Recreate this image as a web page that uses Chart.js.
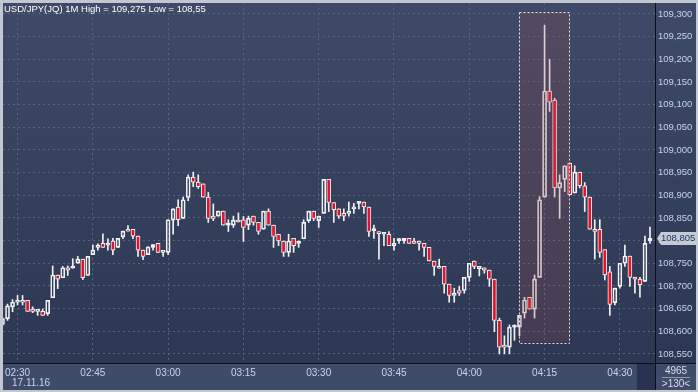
<!DOCTYPE html>
<html>
<head>
<meta charset="utf-8">
<script src="https://cdn.jsdelivr.net/npm/chart.js@4.4.0/dist/chart.umd.min.js"></script>
<style>
  html, body { margin: 0; padding: 0; background: #c3c8d0; }
  #wrap { width: 698px; height: 392px; }
</style>
</head>
<body>
<div id="wrap"><canvas id="chart" width="698" height="392"></canvas></div>
<script>
// minutes are counted from 02:30, first candle is 02:27
const firstMinute = -3;

const opens = [
  108.615, 108.628, 108.654, 108.664, 108.668, 108.668, 108.649, 108.644, 108.644, 108.639,
  108.674, 108.724, 108.718, 108.740, 108.739, 108.750, 108.759, 108.723, 108.769, 108.785,
  108.794, 108.790, 108.799, 108.785, 108.808, 108.825, 108.825, 108.810, 108.779, 108.769,
  108.785, 108.794, 108.774, 108.774, 108.845, 108.874, 108.849, 108.895, 108.940, 108.929,
  108.925, 108.896, 108.854, 108.854, 108.865, 108.834, 108.834, 108.845, 108.846, 108.834,
  108.854, 108.840, 108.825, 108.865, 108.834, 108.814, 108.799, 108.774, 108.805, 108.794,
  108.804, 108.844, 108.865, 108.844, 108.860, 108.935, 108.884, 108.870, 108.860, 108.860,
  108.870, 108.882, 108.885, 108.874, 108.822, 108.820, 108.814, 108.814, 108.789, 108.800,
  108.799, 108.805, 108.799, 108.799, 108.794, 108.785, 108.755, 108.743, 108.743, 108.704,
  108.679, 108.690, 108.690, 108.719, 108.755, 108.738, 108.740, 108.735, 108.715, 108.624,
  108.569, 108.565, 108.609, 108.609, 108.640, 108.675, 108.649, 108.719, 108.896, 109.130,
  109.110, 108.916, 108.935, 108.971, 108.905, 108.951, 108.921, 108.896, 108.825, 108.825,
  108.780, 108.731, 108.663, 108.699, 108.750, 108.766, 108.719, 108.715, 108.710, 108.799
];
const highs = [
  108.630, 108.660, 108.670, 108.679, 108.679, 108.668, 108.654, 108.644, 108.649, 108.668,
  108.744, 108.724, 108.743, 108.744, 108.760, 108.765, 108.759, 108.765, 108.790, 108.793,
  108.815, 108.804, 108.805, 108.805, 108.821, 108.833, 108.825, 108.810, 108.779, 108.786,
  108.791, 108.794, 108.774, 108.846, 108.870, 108.890, 108.896, 108.945, 108.951, 108.945,
  108.925, 108.906, 108.881, 108.865, 108.865, 108.846, 108.854, 108.861, 108.853, 108.854,
  108.854, 108.840, 108.865, 108.870, 108.834, 108.814, 108.799, 108.814, 108.805, 108.799,
  108.846, 108.865, 108.865, 108.854, 108.935, 108.935, 108.884, 108.870, 108.870, 108.885,
  108.882, 108.885, 108.885, 108.874, 108.834, 108.820, 108.814, 108.820, 108.805, 108.805,
  108.805, 108.805, 108.805, 108.799, 108.794, 108.785, 108.755, 108.759, 108.743, 108.704,
  108.695, 108.699, 108.719, 108.750, 108.755, 108.743, 108.740, 108.735, 108.715, 108.629,
  108.590, 108.614, 108.614, 108.635, 108.675, 108.675, 108.724, 108.897, 109.275, 109.200,
  109.114, 108.945, 108.965, 108.971, 108.965, 108.951, 108.928, 108.896, 108.846, 108.846,
  108.780, 108.743, 108.695, 108.750, 108.790, 108.766, 108.719, 108.719, 108.810, 108.830
];
const lows = [
  108.613, 108.624, 108.643, 108.658, 108.658, 108.644, 108.641, 108.635, 108.635, 108.635,
  108.674, 108.694, 108.718, 108.723, 108.739, 108.750, 108.714, 108.723, 108.769, 108.779,
  108.785, 108.779, 108.769, 108.785, 108.804, 108.821, 108.804, 108.765, 108.758, 108.769,
  108.779, 108.774, 108.765, 108.769, 108.814, 108.833, 108.849, 108.888, 108.919, 108.915,
  108.896, 108.840, 108.844, 108.854, 108.834, 108.820, 108.829, 108.841, 108.798, 108.824,
  108.834, 108.814, 108.825, 108.834, 108.785, 108.789, 108.765, 108.765, 108.774, 108.785,
  108.804, 108.840, 108.844, 108.829, 108.860, 108.864, 108.840, 108.849, 108.844, 108.854,
  108.860, 108.870, 108.860, 108.809, 108.805, 108.759, 108.789, 108.789, 108.779, 108.794,
  108.794, 108.794, 108.794, 108.779, 108.765, 108.755, 108.723, 108.739, 108.684, 108.664,
  108.664, 108.679, 108.684, 108.710, 108.738, 108.722, 108.728, 108.699, 108.599, 108.550,
  108.550, 108.550, 108.580, 108.590, 108.629, 108.649, 108.629, 108.719, 108.896, 109.085,
  108.896, 108.849, 108.908, 108.901, 108.905, 108.916, 108.864, 108.825, 108.759, 108.763,
  108.713, 108.635, 108.658, 108.695, 108.743, 108.699, 108.684, 108.675, 108.710, 108.794
];
const closes = [
  108.628, 108.656, 108.664, 108.668, 108.664, 108.644, 108.644, 108.644, 108.635, 108.668,
  108.724, 108.715, 108.740, 108.735, 108.744, 108.759, 108.718, 108.765, 108.779, 108.790,
  108.785, 108.794, 108.779, 108.805, 108.821, 108.821, 108.810, 108.779, 108.765, 108.786,
  108.791, 108.774, 108.774, 108.846, 108.870, 108.846, 108.890, 108.940, 108.929, 108.919,
  108.896, 108.849, 108.849, 108.865, 108.834, 108.834, 108.845, 108.841, 108.829, 108.849,
  108.840, 108.820, 108.865, 108.834, 108.809, 108.799, 108.774, 108.799, 108.789, 108.799,
  108.840, 108.865, 108.849, 108.854, 108.935, 108.884, 108.868, 108.854, 108.854, 108.865,
  108.874, 108.882, 108.874, 108.820, 108.822, 108.815, 108.814, 108.789, 108.794, 108.800,
  108.805, 108.794, 108.794, 108.794, 108.785, 108.755, 108.743, 108.739, 108.704, 108.679,
  108.684, 108.684, 108.719, 108.750, 108.743, 108.743, 108.735, 108.715, 108.624, 108.565,
  108.565, 108.609, 108.609, 108.635, 108.669, 108.649, 108.715, 108.890, 109.130, 109.105,
  108.916, 108.928, 108.965, 108.901, 108.951, 108.921, 108.896, 108.825, 108.820, 108.774,
  108.724, 108.659, 108.695, 108.750, 108.766, 108.719, 108.715, 108.703, 108.794, 108.805
];

const xTickMinutes = [0, 15, 30, 45, 60, 75, 90, 105, 120];
const xTickLabels = ['02:30', '02:45', '03:00', '03:15', '03:30', '03:45', '04:00', '04:15', '04:30'];
const yTicks = [108.55, 108.6, 108.65, 108.7, 108.75, 108.8, 108.85, 108.9, 108.95, 109.0, 109.05, 109.1, 109.15, 109.2, 109.25, 109.3];

const titleText = 'USD/JPY(JQ) 1M High = 109,275 Low = 108,55';
const dateText = '17.11.16';
const volumeText = '4965';
const countText = '>130<';
// highlighted zone: 04:10 - 04:20
const highlightMinutes = [100, 110];
const highlightPrices = [108.575, 109.305];

const FONT = '"Liberation Sans", Arial, sans-serif';
const fmt = v => v.toFixed(3).replace('.', ',');

const minutes = opens.map((_, i) => firstMinute + i);
const upperWicks = minutes.map((m, i) => ({ x: m, y: [Math.max(opens[i], closes[i]), highs[i]] }));
const lowerWicks = minutes.map((m, i) => ({ x: m, y: [lows[i], Math.min(opens[i], closes[i])] }));
const bodies = minutes.map((m, i) => ({ x: m, y: [opens[i], closes[i]] }));
const bodyFill = opens.map((o, i) => closes[i] < o ? '#e3132e' : 'rgba(0,0,0,0)');

const panels = {
  id: 'panels',
  beforeDraw(chart) {
    const { ctx, chartArea: a } = chart;
    ctx.save();
    ctx.fillStyle = '#c3c8d0';
    ctx.fillRect(0, 0, 698, 392);
    const g = ctx.createLinearGradient(0, a.top, 0, a.bottom);
    g.addColorStop(0, '#3e4a67');
    g.addColorStop(1, '#2c3753');
    ctx.fillStyle = g;
    ctx.fillRect(a.left, a.top, 696 - a.left, a.bottom - a.top);
    ctx.fillStyle = '#3f4c69';
    ctx.fillRect(a.left, a.bottom, 696 - a.left, 390 - a.bottom);
    ctx.fillStyle = '#283351';
    ctx.fillRect(637, a.bottom + 1, a.right - 637, 390 - a.bottom - 1);
    ctx.restore();
  },
  afterDatasetsDraw(chart) {
    const { ctx, scales: { x, y } } = chart;
    const x0 = x.getPixelForValue(highlightMinutes[0]);
    const x1 = x.getPixelForValue(highlightMinutes[1]);
    const y0 = y.getPixelForValue(highlightPrices[1]);
    const y1 = y.getPixelForValue(highlightPrices[0]);
    ctx.save();
    ctx.fillStyle = 'rgba(160,78,82,0.22)';
    ctx.fillRect(x0, y0, x1 - x0, y1 - y0);
    ctx.strokeStyle = '#e6e2ea';
    ctx.lineWidth = 1;
    ctx.setLineDash([2, 2]);
    ctx.strokeRect(Math.round(x0) + 0.5, Math.round(y0) + 0.5, Math.round(x1 - x0), Math.round(y1 - y0));
    ctx.restore();
  },
  afterDraw(chart) {
    const { ctx, chartArea: a, scales: { y } } = chart;
    ctx.save();
    // extended axis lines
    ctx.strokeStyle = '#0b0f18';
    ctx.lineWidth = 1;
    ctx.beginPath();
    ctx.moveTo(a.left, a.bottom + 0.5);
    ctx.lineTo(696, a.bottom + 0.5);
    ctx.moveTo(a.right + 0.5, a.top);
    ctx.lineTo(a.right + 0.5, 390);
    ctx.stroke();

    ctx.font = '9.5px ' + FONT;
    ctx.textBaseline = 'middle';
    ctx.fillStyle = '#ffffff';
    ctx.fillText(titleText, 4, 9);

    ctx.font = '10px ' + FONT;
    ctx.fillStyle = '#c4d4ec';
    ctx.fillText(dateText, 12, 383);

    // last price tag
    const last = closes[closes.length - 1];
    const py = Math.round(y.getPixelForValue(last)) + 0.5;
    ctx.fillStyle = '#c5cbd5';
    ctx.beginPath();
    ctx.moveTo(657, py);
    ctx.lineTo(661, py - 6.5);
    ctx.lineTo(696, py - 6.5);
    ctx.lineTo(696, py + 6.5);
    ctx.lineTo(661, py + 6.5);
    ctx.closePath();
    ctx.fill();
    ctx.fillStyle = '#1d3561';
    ctx.font = '9.5px ' + FONT;
    ctx.fillText(fmt(last), 661, py);

    // bottom right cell
    ctx.font = '10px ' + FONT;
    ctx.fillStyle = '#d6deea';
    ctx.textAlign = 'center';
    ctx.fillText(volumeText, 676, 371);
    ctx.fillText(countText, 676, 384);
    ctx.strokeStyle = '#8f9bb0';
    ctx.beginPath();
    ctx.moveTo(662, 377.5);
    ctx.lineTo(690, 377.5);
    ctx.stroke();
    ctx.restore();
  }
};

new Chart(document.getElementById('chart'), {
  type: 'bar',
  data: {
    datasets: [
      { data: upperWicks, barThickness: 1, backgroundColor: '#f2f2f2', borderWidth: 0, grouped: false },
      { data: lowerWicks, barThickness: 1, backgroundColor: '#f2f2f2', borderWidth: 0, grouped: false },
      {
        data: bodies, barThickness: 4, backgroundColor: bodyFill, borderColor: '#f2f2f2',
        borderWidth: 1, borderSkipped: false, minBarLength: 2, grouped: false
      }
    ]
  },
  options: {
    responsive: false,
    animation: false,
    layout: { padding: { left: 3, top: 3, right: 0, bottom: 0 } },
    plugins: { legend: { display: false }, tooltip: { enabled: false } },
    scales: {
      x: {
        type: 'linear',
        offset: false,
        min: -2.9,
        max: 127,
        afterBuildTicks: s => { s.ticks = xTickMinutes.map(v => ({ value: v })); },
        afterFit: s => { s.height = 29; s.paddingLeft = 0; s.paddingRight = 0; },
        grid: { color: '#56627e', drawTicks: false, offset: false },
        border: { display: true, color: '#0b0f18', dash: [2, 3] },
        ticks: {
          autoSkip: false, maxRotation: 0, padding: 4, color: '#c4d4ec',
          font: { family: FONT, size: 10 },
          callback: (v, i) => xTickLabels[i]
        }
      },
      y: {
        position: 'right',
        min: 108.530,
        max: 109.324,
        afterBuildTicks: s => { s.ticks = yTicks.map(v => ({ value: v })); },
        afterFit: s => { s.width = 43; s.paddingTop = 0; s.paddingBottom = 0; },
        grid: { color: '#56627e', drawTicks: false },
        border: { display: true, color: '#0b0f18', dash: [2, 3] },
        ticks: {
          padding: 3, color: '#c4d4ec', crossAlign: 'near',
          font: { family: FONT, size: 9.5 },
          callback: v => fmt(v)
        }
      }
    }
  },
  plugins: [panels]
});
</script>
</body>
</html>
